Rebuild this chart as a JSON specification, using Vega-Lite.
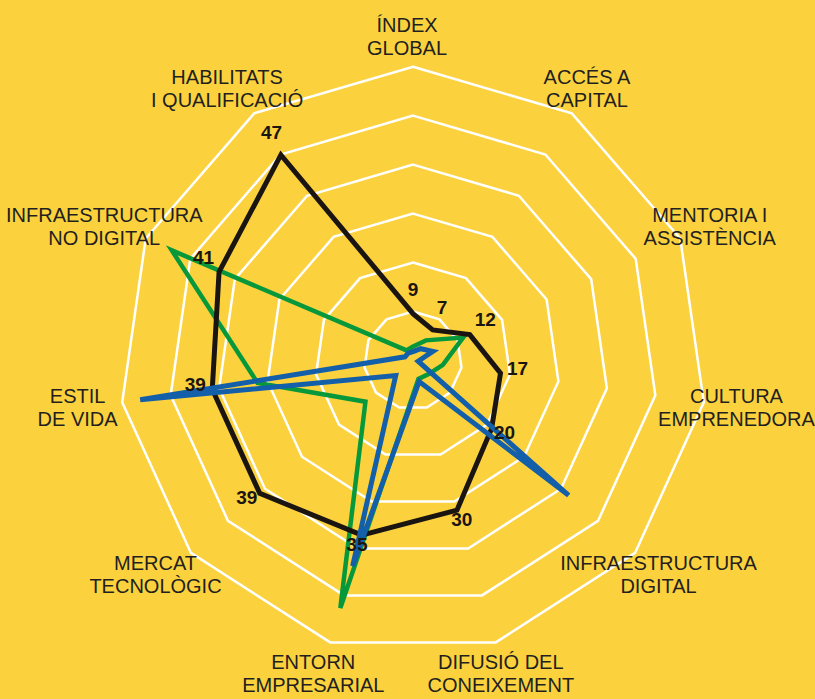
{
  "$schema": "https://vega.github.io/schema/vega-lite/v6.json",
  "width": 815,
  "height": 699,
  "autosize": {"type": "none"},
  "padding": 0,
  "background": "#FBD23D",
  "config": {"view": {"stroke": null}},
  "datasets": {
    "axes": [
      {"idx": 0, "label": "ÍNDEX\nGLOBAL", "levels": [1, 2, 3, 4, 5, 6]},
      {"idx": 1, "label": "ACCÉS A\nCAPITAL", "levels": [1, 2, 3, 4, 5, 6]},
      {"idx": 2, "label": "MENTORIA I\nASSISTÈNCIA", "levels": [1, 2, 3, 4, 5, 6]},
      {"idx": 3, "label": "CULTURA\nEMPRENEDORA", "levels": [1, 2, 3, 4, 5, 6]},
      {"idx": 4, "label": "INFRAESTRUCTURA\nDIGITAL", "levels": [1, 2, 3, 4, 5, 6]},
      {"idx": 5, "label": "DIFUSIÓ DEL\nCONEIXEMENT", "levels": [1, 2, 3, 4, 5, 6]},
      {"idx": 6, "label": "ENTORN\nEMPRESARIAL", "levels": [1, 2, 3, 4, 5, 6]},
      {"idx": 7, "label": "MERCAT\nTECNOLÒGIC", "levels": [1, 2, 3, 4, 5, 6]},
      {"idx": 8, "label": "ESTIL\nDE VIDA", "levels": [1, 2, 3, 4, 5, 6]},
      {"idx": 9, "label": "INFRAESTRUCTURA\nNO DIGITAL", "levels": [1, 2, 3, 4, 5, 6]},
      {"idx": 10, "label": "HABILITATS\nI QUALIFICACIÓ", "levels": [1, 2, 3, 4, 5, 6]}
    ],
    "scores": [
      {"series": "negre", "idx": 0, "value": 9},
      {"series": "negre", "idx": 1, "value": 7},
      {"series": "negre", "idx": 2, "value": 12},
      {"series": "negre", "idx": 3, "value": 17},
      {"series": "negre", "idx": 4, "value": 20},
      {"series": "negre", "idx": 5, "value": 30},
      {"series": "negre", "idx": 6, "value": 35},
      {"series": "negre", "idx": 7, "value": 39},
      {"series": "negre", "idx": 8, "value": 39},
      {"series": "negre", "idx": 9, "value": 41},
      {"series": "negre", "idx": 10, "value": 47},
      {"series": "verd", "idx": 0, "value": 2.7},
      {"series": "verd", "idx": 1, "value": 4.6},
      {"series": "verd", "idx": 2, "value": 10.6},
      {"series": "verd", "idx": 3, "value": 5.8},
      {"series": "verd", "idx": 4, "value": 4.0},
      {"series": "verd", "idx": 5, "value": 3.7},
      {"series": "verd", "idx": 6, "value": 49.6},
      {"series": "verd", "idx": 7, "value": 12.1},
      {"series": "verd", "idx": 8, "value": 30.2},
      {"series": "verd", "idx": 9, "value": 51},
      {"series": "verd", "idx": 10, "value": 2.3},
      {"series": "blau", "idx": 0, "value": 1.7},
      {"series": "blau", "idx": 1, "value": 2.7},
      {"series": "blau", "idx": 2, "value": 4.2},
      {"series": "blau", "idx": 3, "value": 1.0},
      {"series": "blau", "idx": 4, "value": 39.6},
      {"series": "blau", "idx": 5, "value": 4.2},
      {"series": "blau", "idx": 6, "value": 41.2},
      {"series": "blau", "idx": 7, "value": 4.4},
      {"series": "blau", "idx": 8, "value": 53},
      {"series": "blau", "idx": 9, "value": 1.7},
      {"series": "blau", "idx": 10, "value": 1.7}
    ]
  },
  "layer": [
    {
      "data": {"name": "axes"},
      "transform": [
        {"flatten": ["levels"]},
        {"calculate": "datum.levels * 56.5 / 6", "as": "r"},
        {"calculate": "datum.idx * 2 * PI / 11", "as": "a"},
        {"calculate": "datum.r * sin(datum.a)", "as": "px"},
        {"calculate": "datum.r * cos(datum.a)", "as": "py"}
      ],
      "mark": {"type": "line", "interpolate": "linear-closed", "stroke": "#ffffff", "strokeWidth": 2.5},
      "encoding": {
        "x": {"field": "px", "type": "quantitative", "scale": {"domain": [-79.423, 77.308], "nice": false, "zero": false}, "axis": null},
        "y": {"field": "py", "type": "quantitative", "scale": {"domain": [-65.096, 69.327], "nice": false, "zero": false}, "axis": null},
        "detail": {"field": "levels", "type": "nominal"},
        "order": {"field": "idx", "type": "quantitative"}
      }
    },
    {
      "data": {"name": "scores"},
      "transform": [
        {"filter": "datum.series === 'verd'"},
        {"calculate": "datum.idx * 2 * PI / 11", "as": "a"},
        {"calculate": "datum.value * sin(datum.a)", "as": "px"},
        {"calculate": "datum.value * cos(datum.a)", "as": "py"}
      ],
      "mark": {"type": "line", "interpolate": "linear-closed", "stroke": "#07983B", "strokeWidth": 4.5, "strokeJoin": "miter"},
      "encoding": {
        "x": {"field": "px", "type": "quantitative", "axis": null},
        "y": {"field": "py", "type": "quantitative", "axis": null},
        "order": {"field": "idx", "type": "quantitative"}
      }
    },
    {
      "data": {"name": "scores"},
      "transform": [
        {"filter": "datum.series === 'negre'"},
        {"calculate": "datum.idx * 2 * PI / 11", "as": "a"},
        {"calculate": "datum.value * sin(datum.a)", "as": "px"},
        {"calculate": "datum.value * cos(datum.a)", "as": "py"}
      ],
      "mark": {"type": "line", "interpolate": "linear-closed", "stroke": "#1B1512", "strokeWidth": 5, "strokeJoin": "miter"},
      "encoding": {
        "x": {"field": "px", "type": "quantitative", "axis": null},
        "y": {"field": "py", "type": "quantitative", "axis": null},
        "order": {"field": "idx", "type": "quantitative"}
      }
    },
    {
      "data": {"name": "scores"},
      "transform": [
        {"filter": "datum.series === 'blau'"},
        {"calculate": "datum.idx * 2 * PI / 11", "as": "a"},
        {"calculate": "datum.value * sin(datum.a)", "as": "px"},
        {"calculate": "datum.value * cos(datum.a)", "as": "py"}
      ],
      "mark": {"type": "line", "interpolate": "linear-closed", "stroke": "#135FA9", "strokeWidth": 5, "strokeJoin": "miter"},
      "encoding": {
        "x": {"field": "px", "type": "quantitative", "axis": null},
        "y": {"field": "py", "type": "quantitative", "axis": null},
        "order": {"field": "idx", "type": "quantitative"}
      }
    },
    {
      "data": {"name": "scores"},
      "transform": [
        {"filter": "datum.series === 'negre'"},
        {"calculate": "datum.idx * 2 * PI / 11", "as": "a"},
        {"calculate": "(datum.value + 3.3) * sin(datum.a)", "as": "px"},
        {"calculate": "(datum.value + 3.3) * cos(datum.a) + 1.35", "as": "py"}
      ],
      "mark": {"type": "text", "font": "Liberation Sans", "fontSize": 19, "fontWeight": "bold", "color": "#1B1512", "align": "center", "baseline": "middle"},
      "encoding": {
        "x": {"field": "px", "type": "quantitative", "axis": null},
        "y": {"field": "py", "type": "quantitative", "axis": null},
        "text": {"field": "value", "type": "quantitative"}
      }
    },
    {
      "data": {"name": "axes"},
      "transform": [
        {"calculate": "datum.idx * 2 * PI / 11", "as": "a"},
        {"calculate": "64 * sin(datum.a) - 1.15", "as": "px"},
        {"calculate": "62.5 * cos(datum.a) + 1.83", "as": "py"}
      ],
      "mark": {"type": "text", "font": "Liberation Sans", "fontSize": 20, "color": "#231F20", "align": "center", "baseline": "middle", "lineBreak": "\n", "lineHeight": 23},
      "encoding": {
        "x": {"field": "px", "type": "quantitative", "axis": null},
        "y": {"field": "py", "type": "quantitative", "axis": null},
        "text": {"field": "label", "type": "nominal"}
      }
    }
  ]
}
